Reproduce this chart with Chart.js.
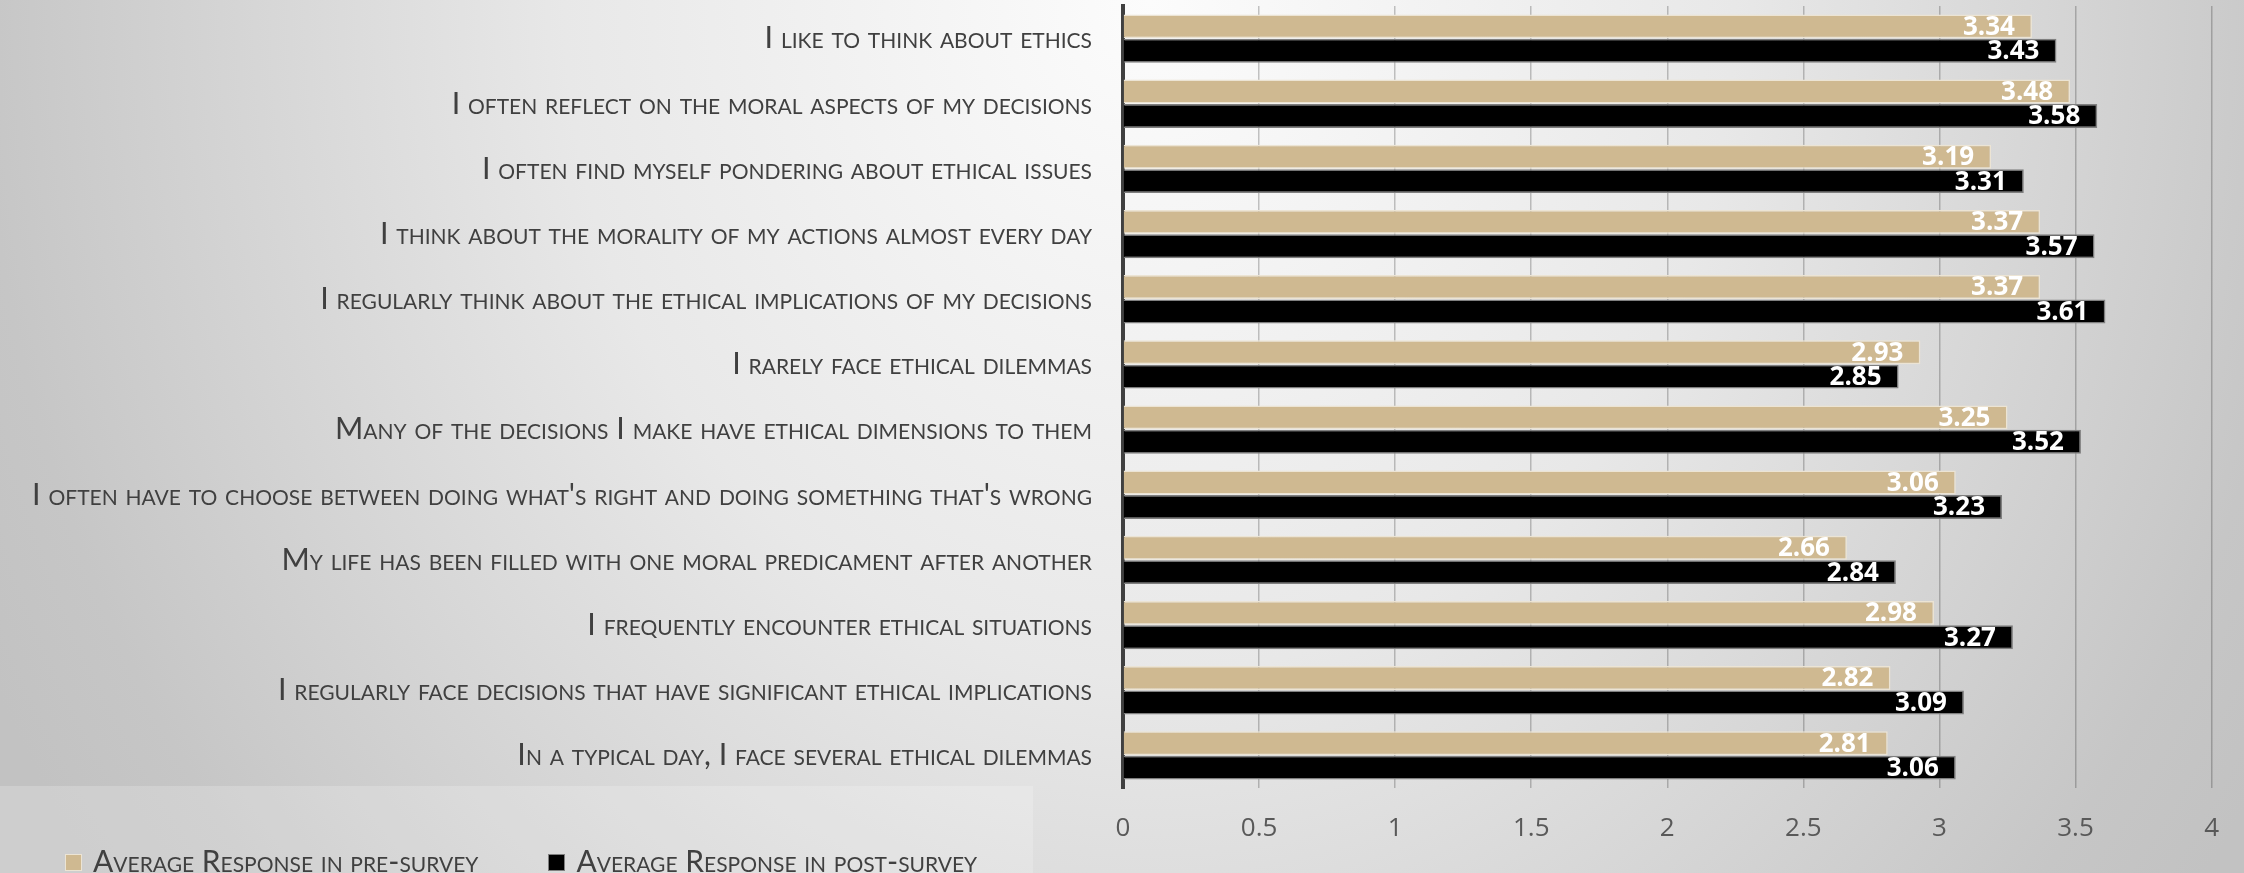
<!DOCTYPE html>
<html>
<head>
<meta charset="utf-8">
<script src="https://cdn.jsdelivr.net/npm/chart.js@4/dist/chart.umd.min.js"></script>
<style>
  html, body { margin: 0; padding: 0; }
  body {
    width: 2244px; height: 873px; overflow: hidden; position: relative;
    background: radial-gradient(ellipse 1300px 1500px at 1150px 0px, #fcfcfc 0%, #e8e8e8 45%, #c6c6c6 90%, #c2c2c2 100%);
  }
  #legendBox {
    position: absolute; left: 0; top: 786px; width: 1033px; height: 87px;
    background: rgba(255,255,255,0.2);
  }
  #legend {
    position: absolute; left: 65px; top: 845px; display: flex; align-items: center;
    font-family: Lato, sans-serif; font-size: 30px; font-variant: small-caps; color: #404040;
    line-height: 30px;
  }
  #legend .item { display: flex; align-items: center; margin-right: 70px; }
  #legend .sw { width: 15px; height: 15px; margin-right: 11px; margin-top: 4px; border: 1px solid; }
  canvas { position: absolute; left: 0; top: 0; }
</style>
</head>
<body>
<div id="legendBox"></div>
<canvas id="myChart" width="2244" height="873"></canvas>
<div id="legend"></div>
<script>
// Chart data
const statements = [
  "I like to think about ethics",
  "I often reflect on the moral aspects of my decisions",
  "I often find myself pondering about ethical issues",
  "I think about the morality of my actions almost every day",
  "I regularly think about the ethical implications of my decisions",
  "I rarely face ethical dilemmas",
  "Many of the decisions I make have ethical dimensions to them",
  "I often have to choose between doing what's right and doing something that's wrong",
  "My life has been filled with one moral predicament after another",
  "I frequently encounter ethical situations",
  "I regularly face decisions that have significant ethical implications",
  "In a typical day, I face several ethical dilemmas"
];
const preSurvey = [3.34, 3.48, 3.19, 3.37, 3.37, 2.93, 3.25, 3.06, 2.66, 2.98, 2.82, 2.81];
const postSurvey = [3.43, 3.58, 3.31, 3.57, 3.61, 2.85, 3.52, 3.23, 2.84, 3.27, 3.09, 3.06];
const seriesNames = ["Average Response in pre-survey", "Average Response in post-survey"];
const seriesColors = ["#CFB991", "#000000"];
const seriesBorders = ["#ece4d4", "#7f7f7f"];

// value labels at the end of each bar
const barValues = {
  id: 'barValues',
  afterDatasetsDraw(chart) {
    const ctx = chart.ctx;
    ctx.save();
    ctx.font = "bold 26px 'Open Sans'";
    ctx.fillStyle = '#ffffff';
    ctx.textAlign = 'right';
    ctx.textBaseline = 'middle';
    chart.data.datasets.forEach((ds, di) => {
      chart.getDatasetMeta(di).data.forEach((bar, i) => {
        ctx.fillText(ds.data[i].toFixed(2), bar.x - 17, bar.y + 1);
      });
    });
    ctx.restore();
  }
};

const ctx = document.getElementById('myChart').getContext('2d');
const surveyChart = new Chart(ctx, {
  type: 'bar',
  data: {
    labels: statements,
    datasets: [
      {
        label: seriesNames[0],
        data: preSurvey,
        backgroundColor: seriesColors[0],
        borderColor: seriesBorders[0],
        borderWidth: 1.5,
      },
      {
        label: seriesNames[1],
        data: postSurvey,
        backgroundColor: seriesColors[1],
        borderColor: seriesBorders[1],
        borderWidth: 1.5,
      },
    ],
  },
  options: {
    indexAxis: 'y',
    responsive: false,
    animation: false,
    categoryPercentage: 0.75,
    barPercentage: 0.98,
    layout: { padding: { top: 6, right: 30, left: 0, bottom: 0 } },
    plugins: {
      legend: { display: false },
      tooltip: { enabled: false },
    },
    scales: {
      x: {
        min: 0,
        max: 4,
        ticks: {
          stepSize: 0.5,
          padding: 25,
          color: '#595959',
          font: { family: "'Open Sans'", size: 26 },
          callback: (v) => String(Math.round(v * 10) / 10),
        },
        grid: { color: 'rgba(0,0,0,0.22)', lineWidth: 1.5, drawTicks: false },
        border: { display: false },
        afterFit(scale) { scale.height = 85; },
      },
      y: {
        ticks: {
          padding: 31,
          autoSkip: false,
          color: '#404040',
          font: { family: 'Lato', size: 30.5, weight: 'small-caps' },
        },
        grid: { display: false, drawTicks: false },
        border: { display: true, color: '#404040', width: 4 },
        afterFit(scale) {
          scale.width = 1123;
          scale.paddingTop = 0;
          scale.paddingBottom = 0;
        },
      },
    },
  },
  plugins: [barValues],
});

// legend built from the series arrays
const legendEl = document.getElementById('legend');
seriesNames.forEach((name, i) => {
  const item = document.createElement('div');
  item.className = 'item';
  const sw = document.createElement('span');
  sw.className = 'sw';
  sw.style.background = seriesColors[i];
  sw.style.borderColor = seriesBorders[i];
  const txt = document.createElement('span');
  txt.textContent = name;
  item.appendChild(sw);
  item.appendChild(txt);
  legendEl.appendChild(item);
});
</script>
</body>
</html>
